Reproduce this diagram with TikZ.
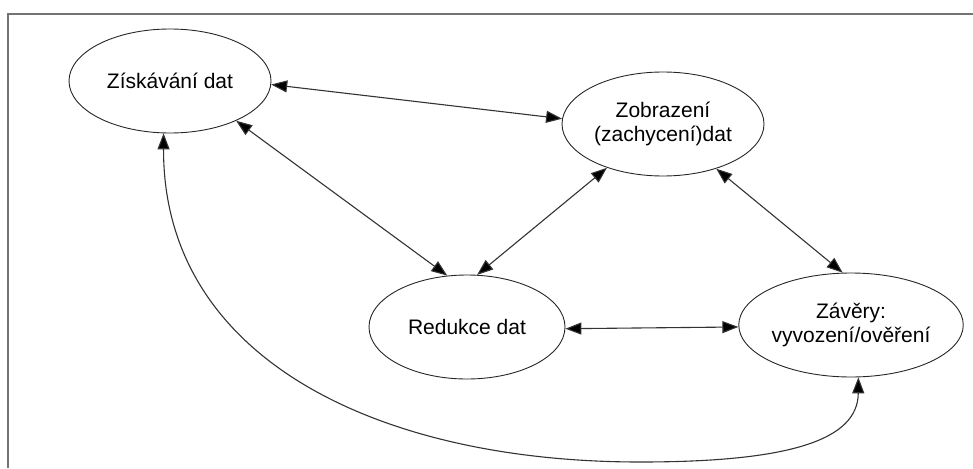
\documentclass[tikz,border=0pt]{standalone}
\usepackage{fontspec}
\setmainfont{Liberation Sans}
\usetikzlibrary{shapes.geometric,arrows.meta}
\begin{document}
\begin{tikzpicture}[x=1pt,y=-1pt,
  stage/.style={ellipse, draw=black!85, line width=0.9pt, minimum width=202pt,
    minimum height=104pt, inner sep=0pt, align=center,
    font=\fontsize{21}{24}\selectfont},
  link/.style={draw=black!80, line width=1.1pt,
    {Triangle[length=16pt,width=12pt,fill=black]}-{Triangle[length=16pt,width=12pt,fill=black]}},
  frameline/.style={draw=black!55, line width=1.5pt}]
\useasboundingbox (0,0) rectangle (973,468);
\coordinate (fTL) at (8,14);
\coordinate (fTR) at (973,14);
\coordinate (fBL) at (8,468);
\draw[frameline] (fTR) -- (fTL) -- (fBL);
\node[stage] (zisk) at (170,81) {Získávání dat};
\node[stage] (zobr) at (663,124) {Zobrazení\\(zachycení)dat};
\node[stage, minimum width=196pt] (red) at (467,327) {Redukce dat};
\node[stage] (zav) at (851,325) {Závěry:\\vyvození/ověření};
\draw[link] (zisk.-2) -- (zobr.177);
\draw[link] (zisk.-31) -- (red.111);
\draw[link] (red.79) -- (zobr.-142);
\draw[link] (zobr.-40) -- (zav.99);
\draw[link] (red.-1) -- (zav.181);
\coordinate (low) at (640,462);
\draw[link] (zisk.-97) .. controls (163,360) and (380,462) .. (low)
  .. controls (790,462) and (858,440) .. (zav.-82);
\end{tikzpicture}
\end{document}
